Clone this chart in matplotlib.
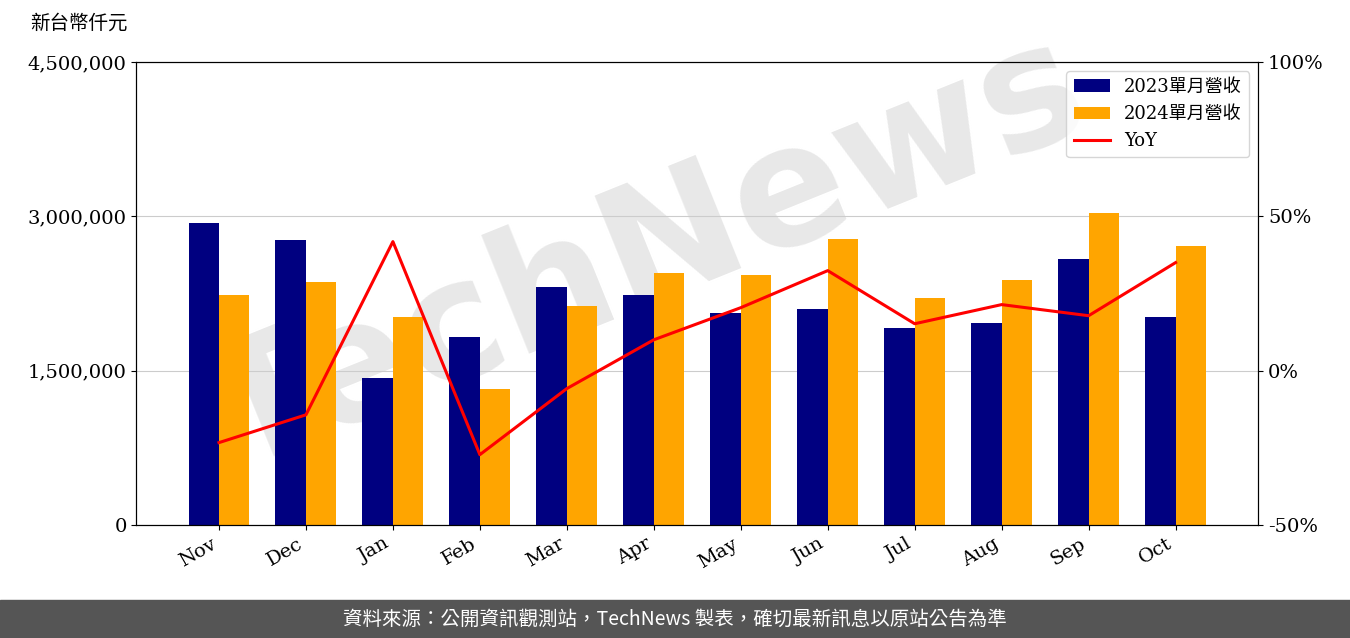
import matplotlib
matplotlib.use("Agg")
import matplotlib.pyplot as plt
import numpy as np

months = ["Nov","Dec","Jan","Feb","Mar","Apr","May","Jun","Jul","Aug","Sep","Oct"]
rev2023 = [2935000,2770000,1430000,1827000,2313000,2235000,2060000,2100000,1915000,1963000,2585000,2020000]
rev2024 = [2235000,2360000,2020000,1320000,2130000,2450000,2430000,2780000,2206000,2380000,3030000,2710000]
yoy = [-23.3,-14.3,41.8,-27.2,-5.8,10.0,20.4,32.4,15.2,21.4,17.8,35.0]

fam = ['DejaVu Serif','Noto Sans CJK TC']
plt.rcParams['font.family'] = fam

fig = plt.figure(figsize=(13.5,6.38), dpi=100)
ax = fig.add_axes([0.101,0.177,0.831,0.726])
ax.patch.set_alpha(0)
x = np.arange(len(months))
w = 0.35
ax.bar(x-w/2, rev2023, w, color='#000080', label='2023單月營收', zorder=2)
ax.bar(x+w/2, rev2024, w, color='#FFA500', label='2024單月營收', zorder=2)
ax.set_ylim(0,4500000)
ax.set_yticks([0,1500000,3000000,4500000])
ax.set_yticklabels([f"{v:,}" for v in [0,1500000,3000000,4500000]], fontsize=14)
ax.grid(axis='y', color='#cccccc', zorder=0)
ax.set_xlim(-0.95, 11.95)
ax.set_xticks(x)
ax.set_xticklabels(months, rotation=30, ha='right', fontsize=14)
ax2 = ax.twinx()
ax2.patch.set_alpha(0)
ln, = ax2.plot(x, yoy, color='red', lw=2.2, label='YoY')
ax2.set_ylim(-50,100)
ax2.set_yticks([-50,0,50,100])
ax2.set_yticklabels(['-50%','0%','50%','100%'], fontsize=14)
h1,l1 = ax.get_legend_handles_labels()
ax2.legend(h1+[ln], l1+['YoY'], loc='upper right', prop={'family':fam,'size':13})
fig.text(0.022,0.955,'新台幣仟元', fontsize=14, family=fam)
fig.text(0.48,0.6,'TechNews', fontsize=120, rotation=22, color='#e8e8e8',
         ha='center', va='center', family='DejaVu Sans', fontweight='bold', zorder=-5)
fig.patches.append(plt.Rectangle((0,0),1,38/638, transform=fig.transFigure, color='#555555', zorder=0))
fig.text(0.5,19/638,'資料來源：公開資訊觀測站，TechNews 製表，確切最新訊息以原站公告為準',
         ha='center', va='center', color='white', fontsize=14, family=['Noto Sans CJK TC','DejaVu Sans'])
fig.savefig('out.png', dpi=100)
